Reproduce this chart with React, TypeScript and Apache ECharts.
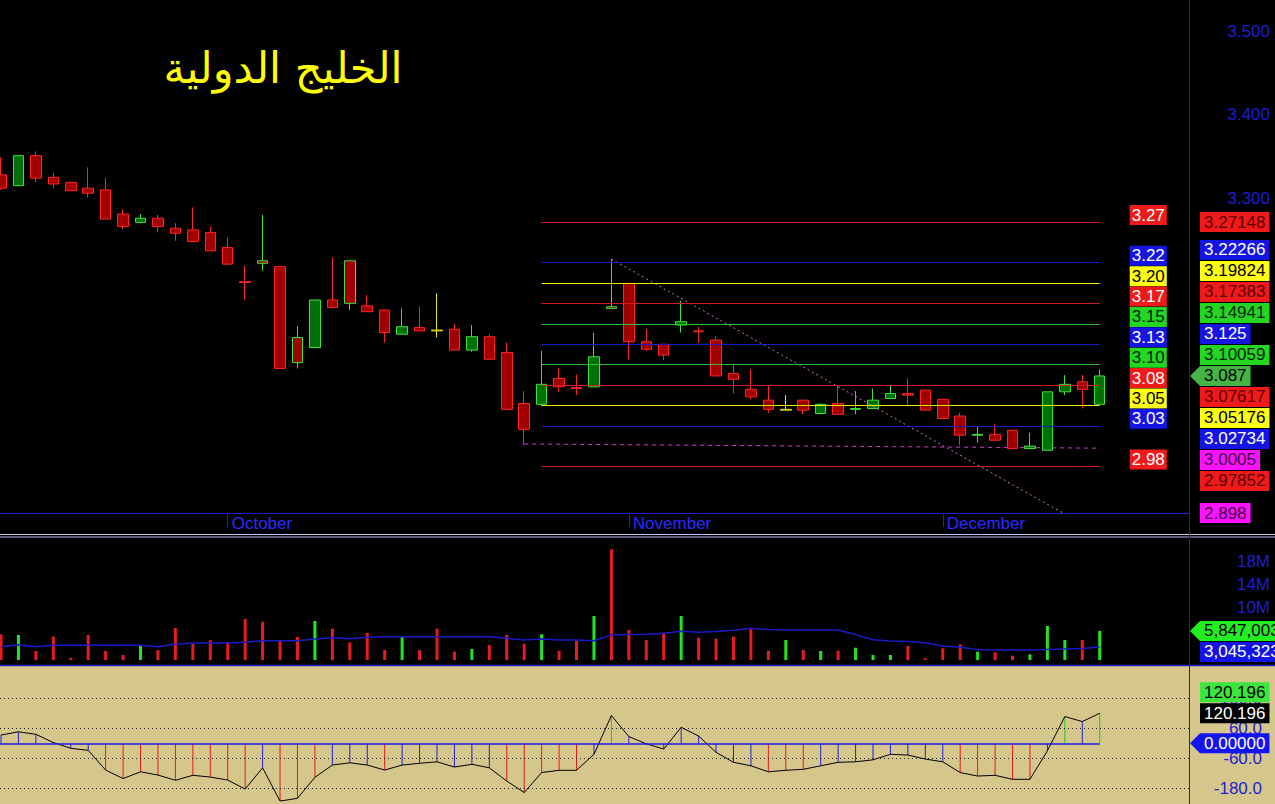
import React, { useEffect, useRef } from "react";
import * as echarts from "echarts";

// ---------------- data ----------------
const titleText = "الخليج الدولية";

const opens = [3.328, 3.315, 3.351, 3.325, 3.319, 3.312, 3.310, 3.281, 3.271, 3.276,
  3.264, 3.262, 3.259, 3.241, 3.200, 3.225, 3.218, 3.133, 3.121, 3.178,
  3.225, 3.171, 3.166, 3.137, 3.145, 3.142, 3.143, 3.118, 3.134, 3.115,
  3.054, 3.053, 3.084, 3.073, 3.074, 3.170, 3.198, 3.128, 3.125, 3.148,
  3.141, 3.130, 3.090, 3.071, 3.058, 3.046, 3.058, 3.042, 3.054, 3.047,
  3.048, 3.060, 3.066, 3.070, 3.059, 3.039, 3.016, 3.017, 3.022, 3.000,
  2.998, 3.068, 3.080, 3.053];
const highs = [3.349, 3.351, 3.356, 3.330, 3.319, 3.337, 3.324, 3.287, 3.281, 3.280,
  3.270, 3.289, 3.266, 3.253, 3.219, 3.280, 3.218, 3.147, 3.178, 3.229,
  3.225, 3.184, 3.166, 3.168, 3.170, 3.186, 3.149, 3.148, 3.137, 3.127,
  3.069, 3.117, 3.096, 3.089, 3.139, 3.227, 3.198, 3.143, 3.125, 3.177,
  3.146, 3.134, 3.101, 3.095, 3.075, 3.064, 3.058, 3.054, 3.075, 3.069,
  3.072, 3.076, 3.084, 3.070, 3.059, 3.043, 3.027, 3.030, 3.022, 3.019,
  3.068, 3.088, 3.088, 3.095];
const lows = [3.310, 3.315, 3.319, 3.312, 3.309, 3.301, 3.275, 3.263, 3.270, 3.259,
  3.249, 3.248, 3.237, 3.221, 3.178, 3.213, 3.096, 3.096, 3.121, 3.169,
  3.166, 3.164, 3.127, 3.137, 3.141, 3.133, 3.118, 3.116, 3.107, 3.047,
  3.004, 3.051, 3.068, 3.064, 3.074, 3.168, 3.107, 3.117, 3.106, 3.139,
  3.127, 3.087, 3.066, 3.059, 3.043, 3.046, 3.041, 3.041, 3.041, 3.041,
  3.048, 3.060, 3.051, 3.046, 3.036, 3.004, 3.007, 3.010, 3.000, 3.000,
  2.998, 3.064, 3.048, 3.053];
const closes = [3.312, 3.351, 3.324, 3.317, 3.309, 3.306, 3.275, 3.266, 3.276, 3.266,
  3.258, 3.248, 3.237, 3.221, 3.199, 3.222, 3.096, 3.103, 3.178, 3.169,
  3.174, 3.164, 3.139, 3.146, 3.141, 3.141, 3.118, 3.134, 3.107, 3.047,
  3.023, 3.077, 3.074, 3.072, 3.110, 3.168, 3.128, 3.119, 3.112, 3.152,
  3.140, 3.087, 3.083, 3.062, 3.047, 3.047, 3.046, 3.053, 3.041, 3.048,
  3.058, 3.066, 3.064, 3.046, 3.036, 3.016, 3.017, 3.010, 3.000, 3.003,
  3.068, 3.077, 3.071, 3.087];

// volume, millions
const volumes = [5.25, 5.13, 2.35, 4.84, 1.18, 5.13, 2.35, 1.65, 3.39, 2.52,
  6.35, 3.62, 4.21, 3.91, 7.91, 7.44, 4.09, 4.78, 7.57, 6.23,
  3.86, 5.48, 2.52, 4.84, 2.52, 6.23, 2.23, 2.70, 3.39, 5.13,
  3.62, 5.25, 2.40, 4.14, 8.44, 20.04, 6.00, 4.26, 5.53, 8.44,
  4.66, 4.49, 4.84, 6.30, 2.40, 4.26, 2.52, 2.35, 2.40, 2.92,
  1.65, 1.65, 3.22, 1.08, 2.82, 3.51, 2.23, 2.12, 1.53, 1.78,
  6.70, 4.26, 4.26, 5.847003];
const volumeAverage = [3.10, 3.45, 3.10, 3.34, 3.34, 3.34, 3.34, 3.34, 3.34, 3.10,
  3.51, 3.74, 3.74, 3.74, 3.86, 4.14, 4.14, 4.14, 4.43, 4.66,
  4.49, 4.72, 4.84, 4.84, 4.84, 4.84, 4.84, 4.84, 4.84, 4.55,
  4.26, 4.43, 4.26, 4.26, 4.14, 5.13, 5.22, 5.25, 5.45, 5.80,
  5.60, 5.75, 5.95, 6.30, 6.10, 6.00, 6.00, 6.00, 6.00, 5.20,
  4.30, 4.10, 4.00, 3.80, 3.20, 3.00, 2.60, 2.50, 2.50, 2.50,
  2.60, 2.70, 2.80, 3.045323];
const cci = [33, 46, 36, 3, -20, -28, -107, -141, -114, -127,
  -148, -128, -135, -147, -183, -98, -231, -220, -136, -87,
  -78, -87, -107, -87, -80, -74, -95, -84, -98, -151,
  -197, -117, -108, -108, -44, 111, 27, -2, -23, 64,
  29, -36, -76, -90, -114, -108, -104, -90, -76, -74,
  -66, -44, -47, -63, -74, -117, -131, -128, -144, -144,
  -30, 107, 87, 120.196];

const murreyLevels = [3.27148, 3.22266, 3.19824, 3.17383, 3.14941, 3.125, 3.10059, 3.07617, 3.05176, 3.02734, 2.97852];
const murreyKinds = ["red", "blue", "yellow", "red", "green", "blue", "green", "red", "yellow", "blue", "red"];
const levelFrom = 31;
const levelTo = 63;
const supportPoints = [[30, 3.0055], [63, 3.0005]];
const trendPoints = [[35, 3.227], [63, 2.898]];
const monthStarts = [13, 36, 54];
const monthNames = ["October", "November", "December"];
const priceTicks = [3.3, 3.4, 3.5];
const volumeTicks = [10, 14, 18];
const cciTicks = [180, 60, -60, -180];

// ---------------- layout / style ----------------
const W = 1275;
const H = 804;
const PLOT_W = 1189;
const X_MIN = -0.0573;
const X_MAX = 68.119;
const PRICE_MIN = 2.92281;
const PRICE_MAX = 3.53748;
const VOL_MIN = 0.7826;
const VOL_MAX = 22.0;
const CCI_MIN = -242.8;
const CCI_MAX = 309.2;

const FONT = '"Liberation Sans", Arial, Helvetica, sans-serif';
const AXIS_BLUE = "#1e1ed2";
const KIND: Record<string, { line: string; bg: string; small: string; big: string }> = {
  red: { line: "#d01c1c", bg: "#f01a1a", small: "#ffffff", big: "#5a0000" },
  blue: { line: "#1c1cc4", bg: "#1414e4", small: "#ffffff", big: "#ffffff" },
  yellow: { line: "#f0f000", bg: "#ffff14", small: "#000000", big: "#000000" },
  green: { line: "#2ebe2e", bg: "#22d622", small: "#002600", big: "#002600" },
  magenta: { line: "#d040d0", bg: "#ff12ff", small: "#3a003a", big: "#3a003a" },
};
const UP_FILL = "#00700a";
const UP_EDGE = "#3ce23c";
const DOWN_FILL = "#a00000";
const DOWN_EDGE = "#ff2424";
const FLAT_EDGE = "#e6e614";

function fmtLevel(v: number) {
  return String(parseFloat(v.toFixed(5)));
}
function fmtVolume(v: number) {
  return Math.round(v * 1e6).toLocaleString("en-US");
}

function tag(id: string, text: string, x: number, y: number, bg: string, fg: string, pad = [2, 4, 1, 4]) {
  return {
    type: "text",
    id,
    z: 60,
    x,
    y,
    style: {
      text,
      fill: fg,
      font: `17px ${FONT}`,
      backgroundColor: bg,
      padding: pad,
      align: "left",
      verticalAlign: "middle",
    },
  };
}
function arrowTag(id: string, text: string, x: number, y: number, bg: string, fg: string) {
  return [
    {
      type: "polygon",
      id: id + "_tip",
      z: 60,
      shape: { points: [[x - 10, y], [x + 0.5, y - 10.5], [x + 0.5, y + 10.5]] },
      style: { fill: bg },
    },
    tag(id, text, x, y, bg, fg),
  ];
}

function stack(ys: number[], anchor: number, gap: number, maxY: number) {
  const out = ys.slice();
  for (let k = anchor - 1; k >= 0; k--) out[k] = Math.min(out[k], out[k + 1] - gap);
  for (let k = anchor + 1; k < out.length; k++) out[k] = Math.max(out[k], out[k - 1] + gap);
  return out.map((y) => Math.min(y, maxY));
}

function staticGraphics() {
  return [
    { type: "rect", id: "oscBg", z: -10, shape: { x: 0, y: 665, width: W, height: H - 665 }, style: { fill: "#d5c68c" } },
    { type: "line", id: "oscTop", z: 5, shape: { x1: 0, y1: 665.5, x2: W, y2: 665.5 }, style: { stroke: "#2424c8", lineWidth: 1.5 } },
    { type: "line", id: "sepA", z: 5, shape: { x1: 0, y1: 534.5, x2: W, y2: 534.5 }, style: { stroke: "#c8c8f4", lineWidth: 1 } },
    { type: "line", id: "sepB", z: 5, shape: { x1: 0, y1: 537, x2: W, y2: 537 }, style: { stroke: "#b4b4f0", lineWidth: 1 } },
    { type: "line", id: "vsep", z: 5, shape: { x1: PLOT_W + 0.5, y1: 0, x2: PLOT_W + 0.5, y2: H }, style: { stroke: "#1a1ad2", lineWidth: 1 } },
    {
      type: "text",
      id: "title",
      z: 60,
      x: 283,
      y: 68,
      style: { text: titleText, fill: "#ffff00", font: '43px "DejaVu Sans", sans-serif', align: "center", verticalAlign: "middle" },
    },
  ];
}

function buildOption() {
  const N = closes.length;
  const candleData = closes.map((c, i) => {
    const o = opens[i];
    const prev = i > 0 ? closes[i - 1] : Infinity;
    const edge = c > prev ? UP_EDGE : c < prev ? DOWN_EDGE : FLAT_EDGE;
    const fill = c > o ? UP_FILL : c < o ? DOWN_FILL : edge;
    return {
      value: [i, o, c, lows[i], highs[i]],
      itemStyle: { color: fill, color0: fill, borderColor: edge, borderColor0: edge, borderColorDoji: edge },
    };
  });
  const volData = volumes.map((v, i) => ({
    value: [i, v],
    itemStyle: { color: closes[i] > opens[i] ? "#22e622" : "#e81c1c" },
  }));
  const cciBars = cci.map((v, i) => ({
    value: [i, v],
    itemStyle: { color: v > 100 ? "#22cc22" : v < -100 ? "#e41c1c" : "#2222dc" },
  }));

  const xBase = (gridIndex: number, show: boolean) => ({
    type: "value",
    gridIndex,
    min: X_MIN,
    max: X_MAX,
    show,
    splitLine: { show: false },
    axisLine: { show, onZero: false, lineStyle: { color: AXIS_BLUE, width: 1 } },
    axisTick: { show, customValues: monthStarts, length: 14, lineStyle: { color: AXIS_BLUE } },
    axisLabel: {
      show,
      customValues: monthStarts,
      formatter: (v: number) => {
        const k = monthStarts.indexOf(v);
        return k >= 0 ? monthNames[k] : "";
      },
      color: "#2a2aff",
      fontSize: 17,
      fontFamily: FONT,
      align: "left",
      margin: 2,
      padding: [0, 0, 0, 4],
    },
  });
  const yBase = (gridIndex: number, min: number, max: number, ticks: number[], fmt: (v: number) => string, margin: number) => ({
    type: "value",
    gridIndex,
    position: "right",
    min,
    max,
    splitLine: { show: false },
    axisLine: { show: false, onZero: false },
    axisTick: { show: false },
    axisLabel: {
      customValues: ticks,
      formatter: fmt,
      color: AXIS_BLUE,
      fontSize: 17,
      fontFamily: FONT,
      align: "right",
      margin,
    },
  });

  return {
    animation: false,
    backgroundColor: "#000000",
    grid: [
      { left: 0, top: 0, width: PLOT_W, height: 513, containLabel: false, outerBoundsMode: "none" },
      { left: 0, top: 538, width: PLOT_W, height: 122, containLabel: false, outerBoundsMode: "none" },
      { left: 0, top: 666, width: PLOT_W, height: H - 666, containLabel: false, outerBoundsMode: "none" },
    ],
    xAxis: [xBase(0, true), xBase(1, false), xBase(2, false)],
    yAxis: [
      yBase(0, PRICE_MIN, PRICE_MAX, priceTicks, (v: number) => v.toFixed(3), 81),
      yBase(1, VOL_MIN, VOL_MAX, volumeTicks, (v: number) => `${v}M`, 81),
      yBase(2, CCI_MIN, CCI_MAX, cciTicks, (v: number) => v.toFixed(1), 73),
    ],
    graphic: staticGraphics(),
    series: [
      {
        type: "line",
        name: "support",
        xAxisIndex: 0,
        yAxisIndex: 0,
        z: 1,
        data: supportPoints,
        showSymbol: false,
        symbol: "none",
        lineStyle: { color: "#d23cd2", width: 1, type: [4, 4] },
        silent: true,
        markLine: {
          silent: true,
          symbol: ["none", "none"],
          label: { show: false },
          emphasis: { disabled: true },
          lineStyle: { width: 1, type: "solid" },
          data: murreyLevels.map((v, k) => [
            { coord: [levelFrom, v], lineStyle: { color: KIND[murreyKinds[k]].line, width: 1, type: "solid" } },
            { coord: [levelTo, v] },
          ]),
        },
      },
      {
        type: "candlestick",
        xAxisIndex: 0,
        yAxisIndex: 0,
        z: 3,
        barWidth: 11,
        data: candleData,
        itemStyle: { borderWidth: 1 },
        silent: true,
      },
      {
        type: "line",
        name: "trend",
        xAxisIndex: 0,
        yAxisIndex: 0,
        z: 4,
        data: trendPoints,
        showSymbol: false,
        symbol: "none",
        clip: true,
        lineStyle: { color: "#d070d0", width: 1, type: [2, 3] },
        silent: true,
      },
      {
        type: "bar",
        xAxisIndex: 1,
        yAxisIndex: 1,
        barWidth: 3,
        clip: true,
        data: volData,
        silent: true,
      },
      {
        type: "line",
        xAxisIndex: 1,
        yAxisIndex: 1,
        data: volumeAverage.map((v, i) => [i, v]),
        showSymbol: false,
        symbol: "none",
        lineStyle: { color: "#1a1ac8", width: 1.5 },
        silent: true,
      },
      {
        type: "bar",
        xAxisIndex: 2,
        yAxisIndex: 2,
        barWidth: 1,
        data: cciBars,
        silent: true,
        z: 2,
      },
      {
        type: "line",
        xAxisIndex: 2,
        yAxisIndex: 2,
        z: 3,
        data: cci.map((v, i) => [i, v]),
        showSymbol: false,
        symbol: "none",
        lineStyle: { color: "#000000", width: 1 },
        silent: true,
        markLine: {
          silent: true,
          symbol: ["none", "none"],
          label: { show: false },
          emphasis: { disabled: true },
          data: [
            ...cciTicks.map((t) => ({ yAxis: t, lineStyle: { color: "#202020", width: 1, type: [1, 3] } })),
            [
              { coord: [X_MIN, 0], lineStyle: { color: "#1a1ae6", width: 1.5, type: "solid" } },
              { coord: [N - 1, 0] },
            ],
          ],
        },
      },
    ],
  };
}

function buildTags(chart: any) {
  const N = closes.length;
  const px = (g: number, x: number, v: number) => chart.convertToPixel({ gridIndex: g }, [x, v]) as number[];
  const out: any[] = [];
  const TAG_X = 1200;

  // small level tags right of the level lines
  murreyLevels.forEach((v, k) => {
    const p = px(0, levelTo, v);
    const s = KIND[murreyKinds[k]];
    out.push(tag(`lvS${k}`, v.toFixed(2), p[0] + 30, p[1] - 7, s.bg, s.small, [2, 2, 1, 2]));
  });

  // price tags on the right scale
  const items: { v: number; kind: string; arrow?: boolean }[] = [
    ...murreyLevels.map((v, k) => ({ v, kind: murreyKinds[k] })),
    { v: closes[N - 1], kind: "current", arrow: true },
    { v: supportPoints[1][1], kind: "magenta" },
    { v: trendPoints[1][1], kind: "magenta" },
  ].sort((a, b) => b.v - a.v);
  const anchor = items.findIndex((it) => it.kind === "current");
  const ys = stack(items.map((it) => px(0, levelTo, it.v)[1]), anchor, 21, 513);
  items.forEach((it, k) => {
    if (it.arrow) {
      out.push(...arrowTag(`pt${k}`, fmtLevel(it.v), TAG_X, ys[k], "#44b444", "#000000"));
    } else {
      const s = KIND[it.kind];
      out.push(tag(`pt${k}`, fmtLevel(it.v), TAG_X, ys[k], s.bg, s.big));
    }
  });

  // volume tags
  const vy1 = px(1, N - 1, volumes[N - 1])[1];
  const vy2 = Math.max(px(1, N - 1, volumeAverage[N - 1])[1], vy1 + 21);
  out.push(...arrowTag("vol1", fmtVolume(volumes[N - 1]), TAG_X, vy1, "#22ee22", "#000000"));
  out.push(tag("vol2", fmtVolume(volumeAverage[N - 1]), TAG_X, vy2, "#1414e4", "#ffffff"));

  // oscillator tags
  const last = cci[N - 1];
  const cy = px(2, N - 1, last)[1];
  const zy = Math.max(px(2, N - 1, 0)[1], cy + 21);
  out.push(tag("cciH", last.toFixed(3), TAG_X, cy - 21, last > 100 ? "#3ce63c" : "#2222dc", "#000000"));
  out.push(tag("cciL", last.toFixed(3), TAG_X, cy, "#000000", "#ffffff"));
  out.push(...arrowTag("cciZ", (0).toFixed(5), TAG_X, zy, "#1414f0", "#ffffff"));
  return out;
}

export default function App() {
  const ref = useRef<HTMLDivElement>(null);
  useEffect(() => {
    document.body.style.margin = "0";
    const chart = echarts.init(ref.current as HTMLDivElement, null, { renderer: "svg" });
    chart.setOption(buildOption() as any);
    const tags = buildTags(chart);
    chart.setOption({ graphic: [...staticGraphics(), ...tags] } as any);
    return () => chart.dispose();
  }, []);
  return <div ref={ref} style={{ width: W, height: H }} />;
}
